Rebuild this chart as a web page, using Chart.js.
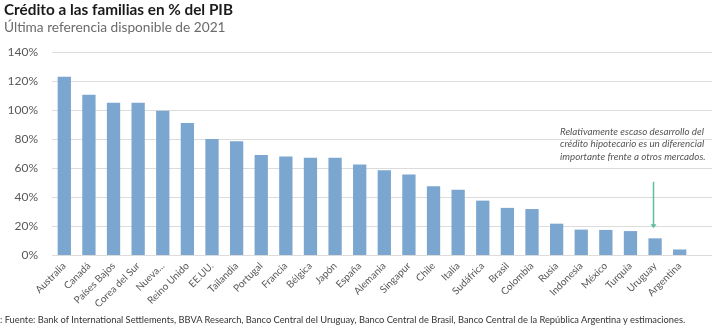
<!DOCTYPE html>
<html>
<head>
<meta charset="utf-8">
<script src="https://cdn.jsdelivr.net/npm/chart.js@4/dist/chart.umd.min.js"></script>
<style>
  html, body { margin: 0; padding: 0; background: #fff; }
  #wrap { position: relative; width: 712px; height: 330px; overflow: hidden; font-family: Lato, "Open Sans", sans-serif; }
  #c { position: absolute; left: 0; top: 0; }
  .t { position: absolute; white-space: nowrap; }
  #title { left: 4px; top: 0px; font-size: 15.3px; font-weight: bold; color: #1a1a1a; }
  #sub { left: 4px; top: 18px; font-size: 13.7px; color: #6b6b6b; }
  #foot { left: 0px; top: 314px; font-size: 9.3px; color: #333; }
  #note { left: 560px; top: 125px; font-size: 9.8px; font-style: italic; color: #555; line-height: 12.3px; }
</style>
</head>
<body>
<div id="wrap">
  <canvas id="c" width="712" height="330"></canvas>
  <div class="t" id="title">Crédito a las familias en % del PIB</div>
  <div class="t" id="sub">Última referencia disponible de 2021</div>
  <div class="t" id="note">Relativamente escaso desarrollo del<br>crédito hipotecario es un diferencial<br>importante frente a otros mercados.</div>
  <div class="t" id="foot">: Fuente: Bank of International Settlements, BBVA Research, Banco Central del Uruguay, Banco Central de Brasil, Banco Central de la República Argentina y estimaciones.</div>
</div>
<script>
const countries = ["Australia", "Canadá", "Países Bajos", "Corea del Sur", "Nueva...", "Reino Unido", "EE.UU.", "Tailandia", "Portugal", "Francia", "Bélgica", "Japón", "España", "Alemania", "Singapur", "Chile", "Italia", "Sudáfrica", "Brasil", "Colombia", "Rusia", "Indonesia", "México", "Turquía", "Uruguay", "Argentina"];
const creditPct = [123, 110.5, 105, 105, 99.5, 91, 80, 78.5, 69, 68, 67, 67, 62.5, 58.5, 55.5, 47.5, 45, 37.5, 32.5, 31.7, 21.6, 17.5, 17.3, 16.5, 11.5, 3.8];
const yTicks = [0, 20, 40, 60, 80, 100, 120, 140];
const arrowCategory = "Uruguay";

const gridPlugin = {
  id: 'fullGrid',
  beforeDatasetsDraw(chart) {
    const ctx = chart.ctx, y = chart.scales.y, a = chart.chartArea;
    ctx.save();
    ctx.strokeStyle = '#dcdcdc';
    ctx.lineWidth = 1.2;
    yTicks.forEach(v => {
      const py = Math.round(y.getPixelForValue(v)) + 0.5;
      ctx.beginPath();
      ctx.moveTo(a.left, py);
      ctx.lineTo(chart.width, py);
      ctx.stroke();
    });
    ctx.restore();
  }
};

const arrowPlugin = {
  id: 'arrow',
  afterDatasetsDraw(chart) {
    const ctx = chart.ctx, x = chart.scales.x, y = chart.scales.y;
    const px = Math.round(x.getPixelForValue(countries.indexOf(arrowCategory))) - 1.5;
    const y0 = y.getPixelForValue(50.5);
    const y1 = y.getPixelForValue(18.5);
    ctx.save();
    ctx.strokeStyle = '#5cbf9b';
    ctx.fillStyle = '#5cbf9b';
    ctx.lineWidth = 1.5;
    ctx.beginPath();
    ctx.moveTo(px, y0);
    ctx.lineTo(px, y1 - 3);
    ctx.stroke();
    ctx.beginPath();
    ctx.moveTo(px - 3, y1 - 4);
    ctx.lineTo(px + 3, y1 - 4);
    ctx.lineTo(px, y1);
    ctx.closePath();
    ctx.fill();
    ctx.restore();
  }
};

new Chart(document.getElementById('c'), {
  type: 'bar',
  data: {
    labels: countries,
    datasets: [{
      data: creditPct,
      backgroundColor: '#7ba6d0',
      borderWidth: 0,
      categoryPercentage: 1,
      barPercentage: 0.54
    }]
  },
  options: {
    responsive: false,
    animation: false,
    events: [],
    layout: { padding: { top: 52, right: 20, left: 0, bottom: 0 } },
    plugins: { legend: { display: false }, tooltip: { enabled: false }, title: { display: false } },
    scales: {
      x: {
        grid: { display: false, drawTicks: false },
        border: { display: false },
        afterFit(scale) { scale.height = 75; },
        ticks: {
          minRotation: 45, maxRotation: 45, autoSkip: false,
          padding: 5,
          color: '#595959',
          font: { family: 'Lato, "Open Sans", sans-serif', size: 10 }
        }
      },
      y: {
        min: 0, max: 140,
        afterFit(scale) { scale.width = 52; },
        afterBuildTicks(scale) { scale.ticks = yTicks.map(v => ({ value: v })); },
        grid: { display: false, drawTicks: false },
        border: { display: false },
        ticks: {
          padding: 14,
          color: '#595959',
          font: { family: 'Lato, "Open Sans", sans-serif', size: 12 },
          callback: v => v + '%'
        }
      }
    }
  },
  plugins: [gridPlugin, arrowPlugin]
});
</script>
</body>
</html>
